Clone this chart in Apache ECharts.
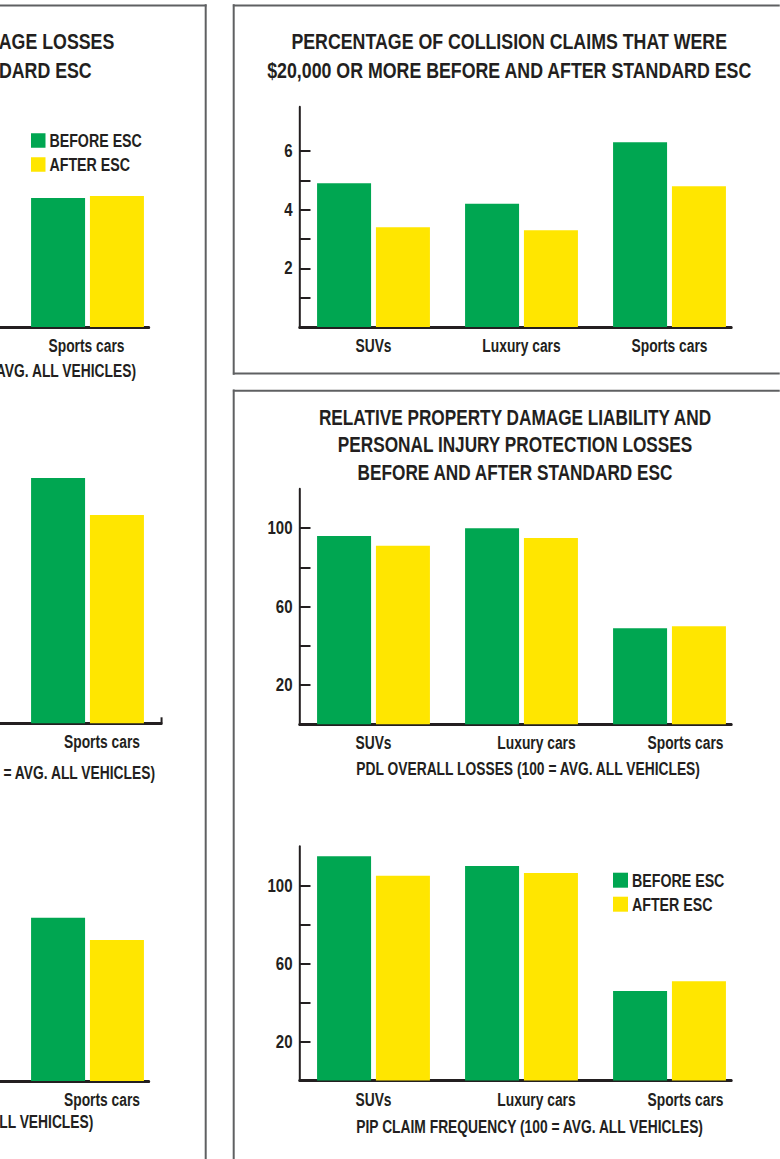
<!DOCTYPE html>
<html>
<head>
<meta charset="utf-8">
<script src="https://cdn.jsdelivr.net/npm/echarts@6/dist/echarts.min.js"></script>
<style>
  html, body { margin: 0; padding: 0; background: #ffffff; overflow: hidden; }
  /* the chart is laid out wide and squeezed horizontally so the type reads as a condensed face */
  #chart { position: absolute; left: 0; top: 0; height: 1159px; transform-origin: 0 0; }
</style>
</head>
<body>
<div id="chart"></div>
<script>
// ---- data ----
const categories = ['SUVs', 'Luxury cars', 'Sports cars'];
const legendNames = ['BEFORE ESC', 'AFTER ESC'];

// Percentage of collision claims that were $20,000 or more
const bigClaimBefore = [4.9, 4.2, 6.3];
const bigClaimAfter  = [3.4, 3.3, 4.8];
const bigClaimTicks  = [1, 2, 3, 4, 5, 6];
const bigClaimLabels = [2, 4, 6];

// PDL overall losses (100 = avg. all vehicles)
const pdlBefore = [96, 100, 49];
const pdlAfter  = [91, 95, 50];

// PIP claim frequency (100 = avg. all vehicles)
const pipBefore = [115, 110, 46];
const pipAfter  = [105, 106.5, 51];

// Collision panel (only the sports-car group is shown in this view)
const collFreqBefore = [null, null, 70.4];
const collFreqAfter  = [null, null, 71.5];
const collSevBefore  = [null, null, 125.6];
const collSevAfter   = [null, null, 106.7];
const collLossBefore = [null, null, 83.6];
const collLossAfter  = [null, null, 72.3];

const indexTicks  = [20, 40, 60, 80, 100, 120];
const indexLabels = [20, 60, 100];

// ---- layout / styling ----
const PAGE_W = 780;
const SX = 0.79;                 // horizontal squeeze applied to the whole drawing
const X = v => v / SX;           // page x -> drawing x
const FONT  = "'Liberation Sans', Arial, Helvetica, sans-serif";
const INK   = '#231f20';
const GREEN = '#00a651';
const YELLOW = '#ffe600';
const FRAME = '#5f6062';
const CAT_W = 148;

const dom = document.getElementById('chart');
dom.style.width = X(PAGE_W) + 'px';
dom.style.transform = 'scaleX(' + SX + ')';

// one entry per bar chart: grid placement and axis range (page pixels)
const charts = [
  { before: bigClaimBefore, after: bigClaimAfter, left: 299.5, top: 107, height: 220, max: 7.5,
    ticks: bigClaimTicks, labels: bigClaimLabels, baseW: 432, shifts: [0, 0, 0] },
  { before: pdlBefore, after: pdlAfter, left: 299.5, top: 489, height: 235.3, max: 120,
    ticks: indexTicks.slice(0, 5), labels: indexLabels, baseW: 432, shifts: [0, 15, 16] },
  { before: pipBefore, after: pipAfter, left: 299.5, top: 846.6, height: 234, max: 120,
    ticks: indexTicks.slice(0, 5), labels: indexLabels, baseW: 432, shifts: [0, 15, 16] },
  // collision panel: its value axis and first two groups sit left of the page edge
  { before: collFreqBefore, after: collFreqAfter, left: 161.5 - 3 * CAT_W, top: 107, height: 220, max: 120,
    ticks: indexTicks.slice(0, 5), labels: indexLabels, baseW: 431.5, shifts: [0, 0, -1], clipped: true },
  { before: collSevBefore, after: collSevAfter, left: 161.5 - 3 * CAT_W, top: 450, height: 273.3, max: 140,
    ticks: indexTicks, labels: indexLabels, baseW: 3 * CAT_W, endTick: true, shifts: [0, 14.5, 14.5], clipped: true },
  { before: collLossBefore, after: collLossAfter, left: 161.5 - 3 * CAT_W, top: 846.8, height: 234.2, max: 120,
    ticks: indexTicks.slice(0, 5), labels: indexLabels, baseW: 431.5, shifts: [0, 14.5, 14.5], clipped: true }
];

const txt = (size, extra) => Object.assign({
  fontFamily: FONT, fontWeight: 'bold', fontSize: size, color: INK
}, extra || {});

const grids = [], xAxes = [], yAxes = [], series = [];

charts.forEach(c => {
  const g = grids.length;
  grids.push({ left: X(c.left), top: c.top, width: X(CAT_W * 3), height: c.height,
               containLabel: false, outerBoundsMode: 'none' });
  xAxes.push({
    gridIndex: g, type: 'category',
    data: categories.map((name, k) => ({ value: name, textStyle: { padding: [0, 0, 0, 2 * X(c.shifts[k])] } })),
    axisLine: { show: false }, axisTick: { show: false },
    axisLabel: txt(17.5, {
      margin: 10, lineHeight: 18,
      interval: c.clipped ? (idx => idx === categories.length - 1) : 0
    })
  });
  yAxes.push({
    gridIndex: g, type: 'value', min: 0, max: c.max,
    axisLine: { show: true, lineStyle: { color: INK, width: 2 / SX } },
    axisTick: { show: !c.clipped, inside: true, length: X(11), customValues: c.ticks, lineStyle: { color: INK, width: 2 } },
    axisLabel: txt(19, { show: !c.clipped, customValues: c.labels, margin: X(7) }),
    splitLine: { show: false }
  });
  series.push(
    { type: 'bar', name: legendNames[0], xAxisIndex: g, yAxisIndex: g, data: c.before,
      barWidth: X(54), barGap: '9%', itemStyle: { color: GREEN }, silent: true },
    { type: 'bar', name: legendNames[1], xAxisIndex: g, yAxisIndex: g, data: c.after,
      barWidth: X(54), barGap: '9%', itemStyle: { color: YELLOW }, silent: true }
  );

  // baseline of the chart, a little shorter than the category band
  const b = grids.length;
  grids.push({ left: X(c.left), top: c.top, width: X(c.baseW), height: c.height,
               containLabel: false, outerBoundsMode: 'none' });
  xAxes.push({
    gridIndex: b, type: 'value', min: 0, max: 1,
    axisLine: { show: true, onZero: false, lineStyle: { color: INK, width: 3 } },
    axisTick: { show: !!c.endTick, inside: true, length: 6, customValues: [1], lineStyle: { color: INK, width: 2 / SX } },
    axisLabel: { show: false }, splitLine: { show: false }
  });
  yAxes.push({ gridIndex: b, type: 'value', min: 0, max: 1, show: false });
});

const legendBase = {
  orient: 'vertical', icon: 'rect', padding: 0, selectedMode: false,
  data: legendNames, textStyle: txt(18)
};

const titleText = (text, left, top, align, size, lineHeight) => ({
  text, left: X(left), top, textAlign: align, padding: 0,
  textStyle: txt(size, { lineHeight })
});

const frameLine = (x1, y1, x2, y2) => ({
  type: 'line', silent: true,
  shape: { x1: X(x1), y1, x2: X(x2), y2 },
  style: { stroke: FRAME, lineWidth: x1 === x2 ? 2 / SX : 2, lineCap: 'square' }
});

const option = {
  animation: false,
  backgroundColor: '#ffffff',
  title: [
    titleText('PERCENTAGE OF COLLISION CLAIMS THAT WERE\n$20,000 OR MORE BEFORE AND AFTER STANDARD ESC',
      509.2, 26.2, 'center', 22.5, 29.2),
    titleText('RELATIVE PROPERTY DAMAGE LIABILITY AND\nPERSONAL INJURY PROTECTION LOSSES\nBEFORE AND AFTER STANDARD ESC',
      515, 403, 'center', 21.8, 27.5),
    titleText('RELATIVE COLLISION DAMAGE LOSSES', 114.3, 26.2, 'right', 22.5, 29.2),
    titleText('BEFORE AND AFTER STANDARD ESC', 91.7, 55.4, 'right', 22.5, 29.2),
    titleText('PDL OVERALL LOSSES (100 = AVG. ALL VEHICLES)', 356.3, 759.5, 'left', 17.5, 18),
    titleText('PIP CLAIM FREQUENCY (100 = AVG. ALL VEHICLES)', 356.3, 1117.5, 'left', 17.5, 18),
    titleText('COLLISION CLAIM FREQUENCY (100 = AVG. ALL VEHICLES)', 136, 361.5, 'right', 17.5, 18),
    titleText('COLLISION CLAIM SEVERITY (100 = AVG. ALL VEHICLES)', 155, 764, 'right', 17.5, 18),
    titleText('COLLISION OVERALL LOSSES (100 = AVG. ALL VEHICLES)', 93.3, 1112.5, 'right', 17.5, 18)
  ],
  legend: [
    Object.assign({}, legendBase, { left: X(31), top: 131.5, itemWidth: X(14.5), itemHeight: 14.5, itemGap: 6 }),
    Object.assign({}, legendBase, { left: X(613), top: 871.2, itemWidth: X(15), itemHeight: 15, itemGap: 6 })
  ],
  grid: grids,
  xAxis: xAxes,
  yAxis: yAxes,
  series: series,
  graphic: [
    // panel frames
    frameLine(-20, 5.5, 205.7, 5.5),
    frameLine(205.7, 5.5, 205.7, 1180),
    frameLine(233.7, 5.5, 800, 5.5),
    frameLine(233.7, 5.5, 233.7, 373.5),
    frameLine(233.7, 373.5, 800, 373.5),
    frameLine(233.7, 390.7, 800, 390.7),
    frameLine(233.7, 390.7, 233.7, 1180)
  ]
};

const chart = echarts.init(dom, null, { renderer: 'svg' });
chart.setOption(option);
</script>
</body>
</html>
